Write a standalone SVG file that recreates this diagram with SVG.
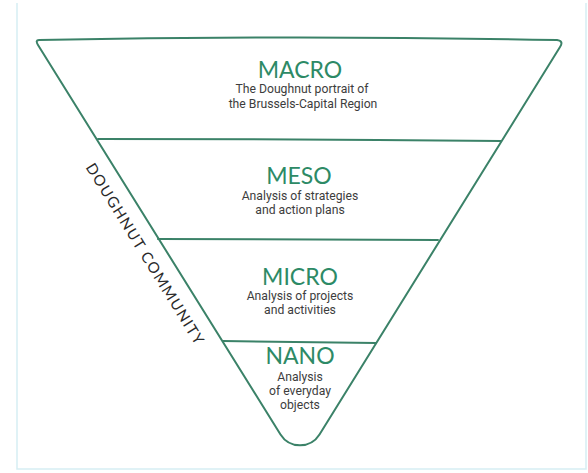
<svg xmlns="http://www.w3.org/2000/svg" width="588" height="473" viewBox="0 0 588 473">
<style>
.frame{fill:none;stroke:#d6eef3;stroke-width:1.5}
.ln{fill:none;stroke:#3b8268;stroke-width:2;stroke-linecap:round;stroke-linejoin:round}
.ttl{font-family:Lato,"Noto Sans",sans-serif;font-size:23px;fill:#2d8a66;text-anchor:middle}
.sub{font-family:Roboto,"Liberation Sans",sans-serif;font-size:12.2px;fill:#3d3d3d;text-anchor:middle}
.side{font-family:Lato,"Noto Sans",sans-serif;font-size:15px;fill:#2a2a2a;text-anchor:middle}
</style>
<rect width="588" height="473" fill="#ffffff"/>
<path class="frame" d="M17,3 V469 H586 V3"/>
<g id="outline">
<path class="ln" d="M39,40 Q300,35 557,40 Q564,41 560,47 L319.5,434.5 A23 23 0 0 1 280.5,434.5 L38,45 Q35,40 39,40 Z"/>
<path class="ln" d="M98,139 Q300,139 501,141"/>
<path class="ln" d="M158,239 L438,240"/>
<path class="ln" d="M223,341 L376,343"/>
</g>
<g id="macro">
<text class="ttl" x="300" y="78">MACRO</text>
<text class="sub" x="302" y="93">The Doughnut portrait of</text>
<text class="sub" x="303" y="108">the Brussels-Capital Region</text>
</g>
<g id="meso">
<text class="ttl" x="299" y="184">MESO</text>
<text class="sub" x="300" y="200">Analysis of strategies</text>
<text class="sub" x="300" y="214">and action plans</text>
</g>
<g id="micro">
<text class="ttl" x="300" y="285">MICRO</text>
<text class="sub" x="300" y="300">Analysis of projects</text>
<text class="sub" x="300" y="314">and activities</text>
</g>
<g id="nano">
<text class="ttl" x="300" y="364">NANO</text>
<text class="sub" x="300" y="381">Analysis</text>
<text class="sub" x="300" y="395">of everyday</text>
<text class="sub" x="300" y="409">objects</text>
</g>
<g id="doughnut-community">
<text class="side" transform="translate(140.5,256.5) rotate(58.3)" textLength="210" lengthAdjust="spacing">DOUGHNUT COMMUNITY</text>
</g>
</svg>
